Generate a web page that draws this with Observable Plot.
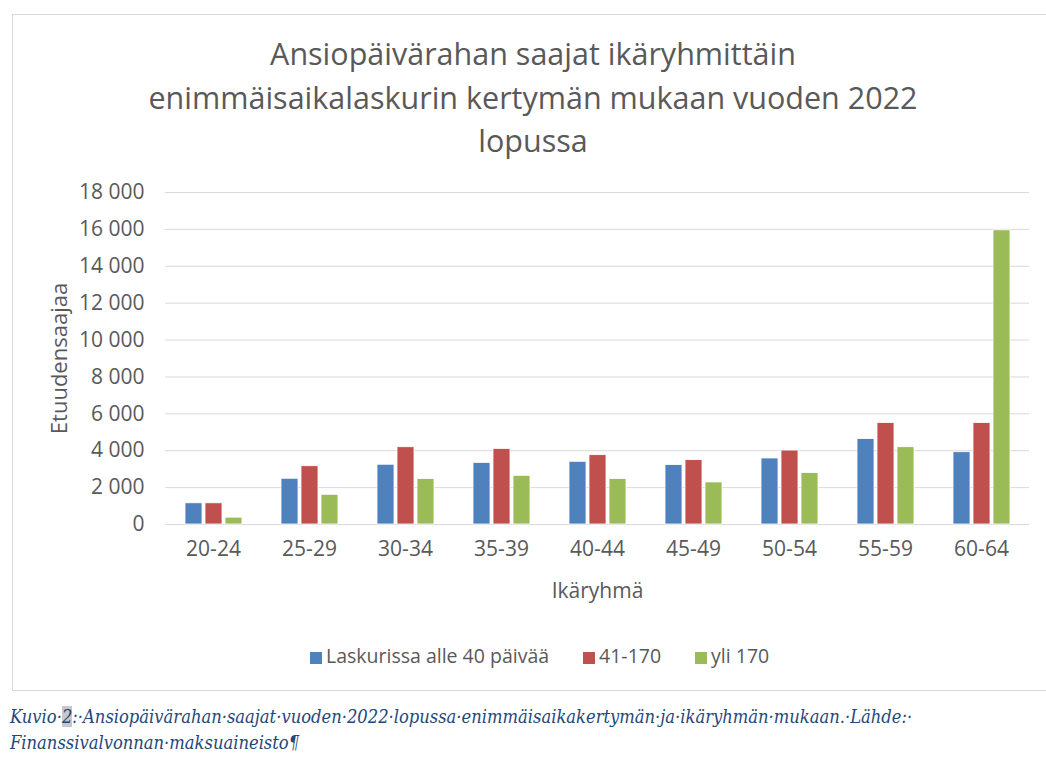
<!DOCTYPE html>
<html>
<head>
<meta charset="utf-8">
<script src="https://cdn.jsdelivr.net/npm/d3@7"></script>
<script src="https://cdn.jsdelivr.net/npm/@observablehq/plot@0.6"></script>
<style>
  html, body { margin: 0; padding: 0; background: #fff; }
  body { width: 1046px; height: 760px; position: relative; overflow: hidden; font-family: "Open Sans", sans-serif; }
  #frame { position: absolute; left: 12px; top: 14px; width: 1040px; height: 677px; border: 1px solid #d9d9d9; box-sizing: border-box; }
  #title { position: absolute; left: 0; top: 32px; width: 1066px; text-align: center; color: #595959; font-size: 30.5px; line-height: 43.5px; }
  #chart { position: absolute; left: 0; top: 170px; }
  #legend { position: absolute; left: 310px; top: 642px; white-space: nowrap; color: #595959; font-size: 19.5px; line-height: 28px; }
  #legend span.item { margin-right: 34px; }
  #legend span.sw { display: inline-block; width: 12px; height: 12px; margin-right: 4px; vertical-align: -1px; }
  #caption { position: absolute; left: 10px; top: 704px; width: 1036px; font-family: "DejaVu Serif Condensed", "Liberation Serif", serif; font-style: italic; font-size: 18.2px; line-height: 26px; color: #24477a; white-space: nowrap; }
  #caption .hl { background: #c8c8c8; }
</style>
</head>
<body>
<div id="frame"></div>
<div id="title">Ansiopäivärahan saajat ikäryhmittäin<br>enimmäisaikalaskurin kertymän mukaan vuoden 2022<br>lopussa</div>
<div id="chart"></div>
<div id="legend"></div>
<div id="caption">Kuvio·<span class="hl">2</span>:·Ansiopäivärahan·saajat·vuoden·2022·lopussa·enimmäisaikakertymän·ja·ikäryhmän·mukaan.·Lähde:·<br>Finanssivalvonnan·maksuaineisto¶</div>
<script>
const ageGroups = ["20-24", "25-29", "30-34", "35-39", "40-44", "45-49", "50-54", "55-59", "60-64"];
const seriesNames = ["Laskurissa alle 40 päivää", "41-170", "yli 170"];
const under40 = [1150, 2480, 3240, 3340, 3400, 3220, 3580, 4630, 3920];
const days41to170 = [1150, 3160, 4190, 4100, 3760, 3490, 4010, 5500, 5500];
const over170 = [370, 1610, 2460, 2640, 2460, 2280, 2790, 4190, 15950];
const yTicks = [0, 2000, 4000, 6000, 8000, 10000, 12000, 14000, 16000, 18000];
const colors = ["#4f81bd", "#c0504d", "#9bbb59"];

const seriesValues = [under40, days41to170, over170];
const data = ageGroups.flatMap((age, i) =>
  seriesNames.map((s, j) => ({age, series: s, value: seriesValues[j][i]}))
);

const fmt = d => d3.format(",")(d).replace(/,/g, " ");

const chart = Plot.plot({
  width: 1046,
  height: 440,
  marginLeft: 163,
  marginRight: 15,
  marginTop: 22,
  marginBottom: 86,
  style: {fontFamily: "'Open Sans', sans-serif", fontSize: "21px", color: "#595959", background: "transparent"},
  fx: {domain: ageGroups, padding: 0, label: "Ikäryhmä", labelAnchor: "center", tickSize: 0, tickPadding: 17, labelOffset: 73},
  x: {domain: seriesNames, axis: null, paddingInner: 0.15, paddingOuter: 0.92},
  y: {domain: [0, 18000], ticks: yTicks, tickFormat: fmt, grid: true, tickSize: 0, tickPadding: 21, label: "Etuudensaajaa", labelArrow: "none", labelAnchor: "center", labelOffset: 114},
  color: {domain: seriesNames, range: colors},
  marks: [
    Plot.ruleY([0], {stroke: "#d9d9d9", strokeWidth: 1}),
    Plot.barY(data, {fx: "age", x: "series", y: "value", fill: "series", stroke: "white", strokeWidth: 0.8})
  ]
});
document.getElementById("chart").appendChild(chart);

// style grid and axis labels
chart.querySelectorAll('[aria-label="y-grid"] line, [aria-label="y-grid"]').forEach(el => {
  el.setAttribute("stroke", "#d9d9d9");
  el.setAttribute("stroke-opacity", "1");
});
const yl = chart.querySelector('[aria-label="y-axis label"]');
if (yl) yl.setAttribute("font-size", "22");
const xl = chart.querySelector('[aria-label="fx-axis label"]');
if (xl) xl.setAttribute("font-size", "21");

// legend
const legend = document.getElementById("legend");
seriesNames.forEach((s, i) => {
  const item = document.createElement("span");
  item.className = "item";
  const sw = document.createElement("span");
  sw.className = "sw";
  sw.style.background = colors[i];
  item.appendChild(sw);
  item.appendChild(document.createTextNode(s));
  legend.appendChild(item);
});
</script>
</body>
</html>
